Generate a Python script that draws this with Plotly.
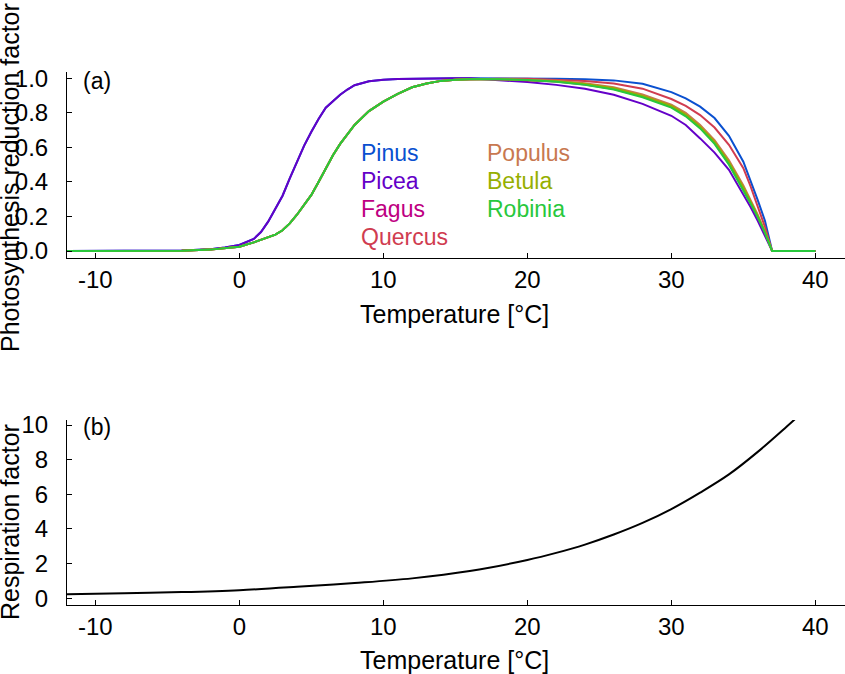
import plotly.graph_objects as go

# ---------------- data ----------------
rise_temps = [-12, -4, -2, -1, 0, 1, 1.5, 2, 2.5, 3, 3.5, 4, 4.5, 5, 5.5, 6, 6.5,
              7, 7.5, 8, 9, 10, 11, 12, 13, 14, 15, 16]
decline_temps = [18, 20, 22, 24, 26, 28, 30, 31, 32, 33, 34, 35, 35.5, 36, 36.5, 37, 40]

conifer_rise = [0, 0.003, 0.01, 0.02, 0.035, 0.07, 0.11, 0.17, 0.245, 0.32, 0.42, 0.52,
                0.61, 0.69, 0.765, 0.83, 0.87, 0.905, 0.935, 0.96, 0.983, 0.992, 0.996,
                0.998, 1.0, 1.0, 1.0, 1.0]
deciduous_rise = [0, 0.002, 0.008, 0.015, 0.025, 0.05, 0.065, 0.08, 0.095, 0.12, 0.16,
                  0.21, 0.265, 0.325, 0.40, 0.48, 0.555, 0.62, 0.675, 0.73, 0.81, 0.865,
                  0.91, 0.948, 0.97, 0.985, 0.992, 0.995]

pinus_decline = [1.0, 1.0, 0.998, 0.995, 0.988, 0.968, 0.92, 0.884, 0.836, 0.77, 0.667,
                 0.517, 0.41, 0.295, 0.175, 0, 0]
picea_decline = [0.99, 0.978, 0.962, 0.94, 0.905, 0.852, 0.783, 0.73, 0.652, 0.57, 0.47,
                 0.33, 0.255, 0.175, 0.09, 0, 0]
fagus_decline = [0.995, 0.99, 0.981, 0.964, 0.938, 0.894, 0.835, 0.785, 0.715, 0.626,
                 0.506, 0.36, 0.28, 0.198, 0.107, 0, 0]
quercus_decline = [0.997, 0.997, 0.993, 0.985, 0.97, 0.94, 0.88, 0.84, 0.787, 0.715,
                   0.615, 0.48, 0.375, 0.26, 0.14, 0, 0]
populus_decline = [0.996, 0.993, 0.986, 0.972, 0.948, 0.906, 0.848, 0.80, 0.73, 0.642,
                   0.525, 0.38, 0.295, 0.21, 0.113, 0, 0]
betula_decline = [0.995, 0.991, 0.983, 0.967, 0.942, 0.898, 0.84, 0.79, 0.72, 0.632,
                  0.513, 0.368, 0.285, 0.202, 0.109, 0, 0]
robinia_decline = [0.995, 0.99, 0.98, 0.962, 0.935, 0.89, 0.83, 0.78, 0.71, 0.62, 0.50,
                   0.355, 0.275, 0.195, 0.105, 0, 0]

species = ["Pinus", "Picea", "Fagus", "Quercus", "Populus", "Betula", "Robinia"]
species_colors = ["#0a50d0", "#6400c8", "#be0082", "#d03c50", "#c87850", "#96af00", "#28c83c"]
species_rise = [conifer_rise, conifer_rise, deciduous_rise, deciduous_rise,
                deciduous_rise, deciduous_rise, deciduous_rise]
species_decline = [pinus_decline, picea_decline, fagus_decline, quercus_decline,
                   populus_decline, betula_decline, robinia_decline]

resp_temps = [-12, -8, -4, 0, 4, 8, 12, 16, 20, 22, 24, 26, 28, 30, 32, 34, 36, 38, 38.6]
resp_values = [0.23, 0.29, 0.36, 0.47, 0.66, 0.88, 1.15, 1.57, 2.21, 2.62, 3.1, 3.68,
               4.35, 5.15, 6.1, 7.15, 8.45, 9.9, 10.35]

x_tick_vals = [-10, 0, 10, 20, 30, 40]
x_tick_text = ["-10", "0", "10", "20", "30", "40"]
ya_tick_vals = [0, 0.2, 0.4, 0.6, 0.8, 1.0]
ya_tick_text = ["0.0", "0.2", "0.4", "0.6", "0.8", "1.0"]
yb_tick_vals = [0, 2, 4, 6, 8, 10]
yb_tick_text = ["0", "2", "4", "6", "8", "10"]

# ---------------- figure ----------------
W, H = 845, 674
ML, MR, MT, MB = 67, 0, 72, 69
PW, PH = W - ML - MR, H - MT - MB

def px_x(px):
    return (px - ML) / PW

def px_y(py):
    return (H - MB - py) / PH

FONT = "Liberation Sans, Arial, sans-serif"
fig = go.Figure()

temps_all = rise_temps + decline_temps
for name, col, r, d in zip(species, species_colors, species_rise, species_decline):
    fig.add_trace(go.Scatter(x=temps_all, y=r + d, mode="lines", name=name,
                             line=dict(color=col, width=2), xaxis="x", yaxis="y",
                             showlegend=False))

fig.add_trace(go.Scatter(x=resp_temps, y=resp_values, mode="lines",
                         line=dict(color="black", width=2, shape="spline", smoothing=1.0),
                         xaxis="x2", yaxis="y2", showlegend=False))

axis_common = dict(showline=True, linecolor="black", linewidth=1, ticks="inside",
                   ticklen=5, tickcolor="black", tickwidth=1, showgrid=False,
                   zeroline=False, mirror=False,
                   tickfont=dict(family=FONT, size=24, color="black"))

fig.update_layout(
    width=W, height=H, margin=dict(l=ML, r=MR, t=MT, b=MB),
    paper_bgcolor="white", plot_bgcolor="white",
    xaxis=dict(domain=[0, 1], range=[-11.97, 42.06], anchor="y",
               tickmode="array", tickvals=x_tick_vals, ticktext=x_tick_text,
               **axis_common),
    yaxis=dict(domain=[px_y(258), 1.0], range=[-0.0405, 1.0365], anchor="x",
               tickmode="array", tickvals=ya_tick_vals, ticktext=ya_tick_text,
               ticklabelstandoff=13, **axis_common),
    xaxis2=dict(domain=[0, 1], range=[-11.97, 42.06], anchor="y2",
                tickmode="array", tickvals=x_tick_vals, ticktext=x_tick_text,
                **axis_common),
    yaxis2=dict(domain=[0, px_y(420)], range=[-0.387, 10.29], anchor="x2",
                tickmode="array", tickvals=yb_tick_vals, ticktext=yb_tick_text,
                ticklabelstandoff=13, **axis_common),
)

ann = []
def add_text(text, px, py, size, color="black", xanchor="center", angle=0):
    ann.append(dict(text=text, x=px_x(px), y=px_y(py), xref="paper", yref="paper",
                    showarrow=False, xanchor=xanchor, yanchor="middle", textangle=angle,
                    font=dict(family=FONT, size=size, color=color)))

add_text("(a)", 81, 81, 23, xanchor="left")
add_text("(b)", 81, 427, 23, xanchor="left")
add_text("Temperature [°C]", 454, 314, 25)
add_text("Temperature [°C]", 454, 660, 25)
add_text("Photosynthesis reduction factor", 10, 178, 25, angle=-90)
add_text("Respiration factor", 10, 522, 25, angle=-90)

legend_pos = [(359, 153), (359, 181), (359, 209), (359, 237),
              (485, 153), (485, 181), (485, 209)]
for name, col, (lx, ly) in zip(species, species_colors, legend_pos):
    add_text(name, lx, ly, 23, color=col, xanchor="left")

fig.update_layout(annotations=ann)
fig.write_html("out.html", config={"displayModeBar": False},
               post_script="document.body.style.margin='0px';")
